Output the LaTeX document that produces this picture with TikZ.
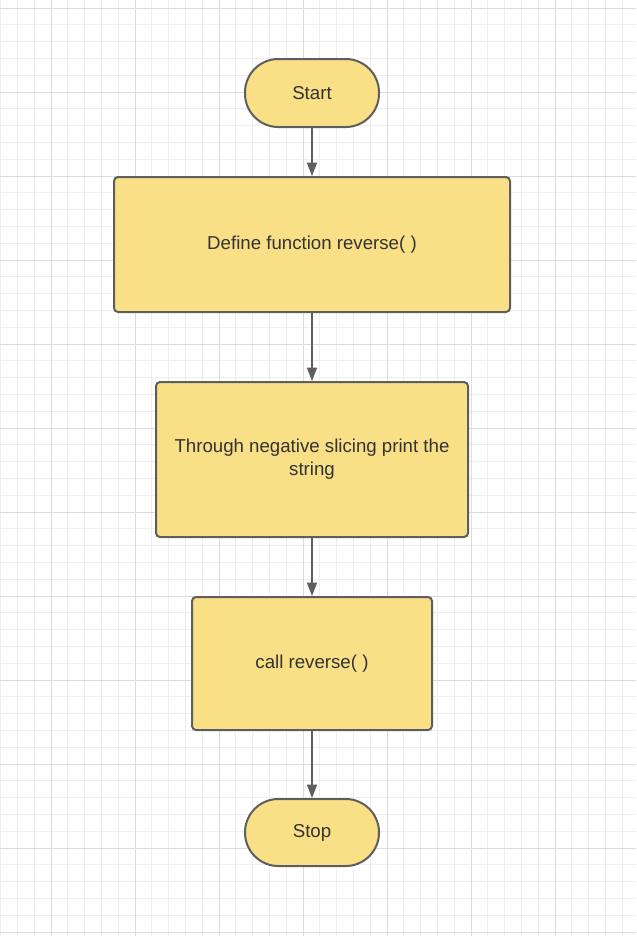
\documentclass[tikz,border=0pt]{standalone}
\usepackage{fontspec}
\setmainfont{Liberation Sans}
\usetikzlibrary{arrows.meta}
\definecolor{butter}{RGB}{249,223,133}
\definecolor{slate}{RGB}{94,94,94}
\definecolor{ink}{RGB}{51,51,51}
\definecolor{gridminor}{RGB}{238,238,238}
\definecolor{gridmajor}{RGB}{220,220,220}
\tikzset{
    terminal/.style={rectangle, rounded corners=25pt, draw=slate, fill=butter, line width=1.5pt,
        text=ink, font=\fontsize{14}{17.25}\selectfont},
    process/.style={rectangle, rounded corners=3pt, draw=slate, fill=butter, line width=1.5pt,
        text=ink, align=center, font=\fontsize{14}{17.25}\selectfont},
    flow/.style={draw=slate, line width=1.1pt, -{Triangle[length=10pt,width=7.5pt]}},
    minorline/.style={draw=gridminor, line width=0.6pt},
    majorline/.style={draw=gridmajor, line width=0.6pt},
}

\begin{document}
\begin{tikzpicture}[x=0.75pt, y=-0.75pt]
\useasboundingbox (0,0) rectangle (636,936);
\fill[white] (0,0) rectangle (636,936);

% grid
\foreach \i in {0,...,37} \draw[minorline] (0.6+16.8*\i,0) -- (0.6+16.8*\i,936);
\foreach \j in {0,...,55} \draw[minorline] (0,8+16.8*\j) -- (636,8+16.8*\j);
\foreach \i in {0,...,6} \draw[majorline] (51+84*\i,0) -- (51+84*\i,936);
\foreach \j in {0,...,11} \draw[majorline] (0,8+84*\j) -- (636,8+84*\j);

\node[terminal, minimum width=100.5pt, minimum height=51pt] (start) at (312,93) {Start};
\node[process, minimum width=297pt, minimum height=101.25pt] (define) at (312,244.5) {Define function reverse( )};
\node[process, minimum width=234pt, minimum height=116.25pt] (slice) at (312,459.5) {Through negative slicing print the\\string};
\node[process, minimum width=180pt, minimum height=99.75pt] (call) at (312,663.5) {call reverse( )};
\node[terminal, minimum width=100.5pt, minimum height=50.25pt] (stop) at (312,832.5) {Stop};

\draw[flow] (start) -- (define);
\draw[flow] (define) -- (slice);
\draw[flow] (slice) -- (call);
\draw[flow] (call) -- (stop);

\end{tikzpicture}
\end{document}
